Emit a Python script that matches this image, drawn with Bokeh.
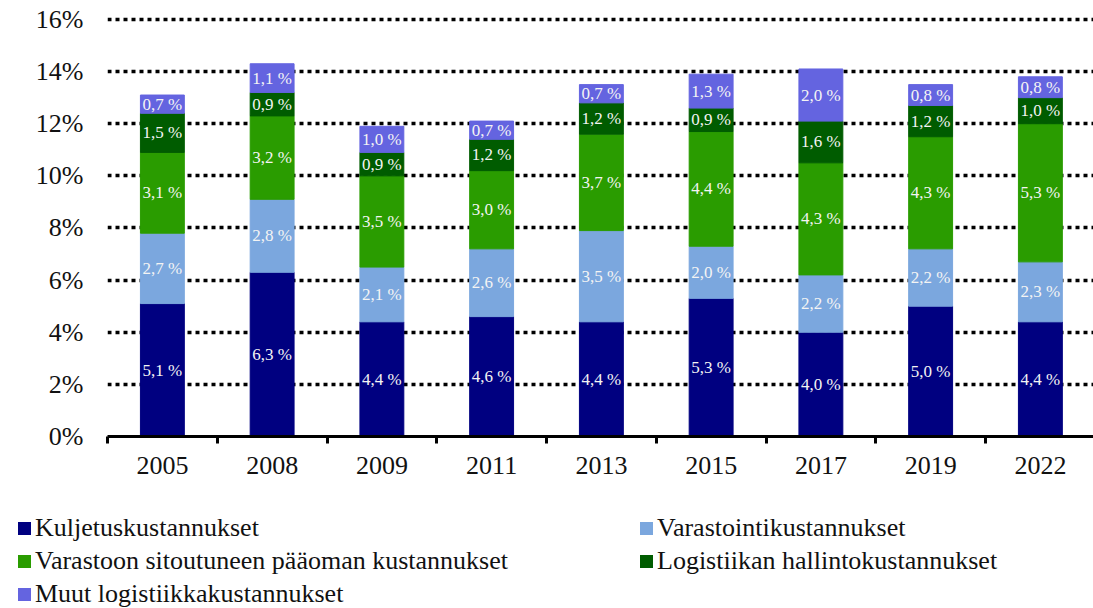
from bokeh.plotting import figure
from bokeh.layouts import column
from bokeh.models import (ColumnDataSource, Range1d, FixedTicker, PrintfTickFormatter, Div)
from bokeh.core.properties import value
from bokeh.embed import file_html
from bokeh.resources import INLINE

years = ["2005", "2008", "2009", "2011", "2013", "2015", "2017", "2019", "2022"]
kuljetus = [5.1, 6.3, 4.4, 4.6, 4.4, 5.3, 4.0, 5.0, 4.4]
varastointi = [2.7, 2.8, 2.1, 2.6, 3.5, 2.0, 2.2, 2.2, 2.3]
paaoma = [3.1, 3.2, 3.5, 3.0, 3.7, 4.4, 4.3, 4.3, 5.3]
hallinto = [1.5, 0.9, 0.9, 1.2, 1.2, 0.9, 1.6, 1.2, 1.0]
muut = [0.7, 1.1, 1.0, 0.7, 0.7, 1.3, 2.0, 0.8, 0.8]

series_names = ["Kuljetuskustannukset", "Varastointikustannukset",
                "Varastoon sitoutuneen pääoman kustannukset",
                "Logistiikan hallintokustannukset", "Muut logistiikkakustannukset"]
series_values = [kuljetus, varastointi, paaoma, hallinto, muut]
colors = ["#000080", "#7BA7DE", "#2A9C00", "#005C00", "#6464E0"]
y_ticks = [0, 2, 4, 6, 8, 10, 12, 14, 16]

FONT = "Liberation Serif"

keys = ["s%d" % i for i in range(len(series_values))]
x = list(range(len(years)))
data = {"x": x, "year": years}
for k, v in zip(keys, series_values):
    data[k] = v
source = ColumnDataSource(data)

MAIN_H = 505
p = figure(width=1093, height=MAIN_H, output_backend="svg", toolbar_location=None,
           x_range=Range1d(-0.5, 8.484), y_range=Range1d(0, 16.19),
           min_border_left=107, min_border_top=14, min_border_right=0,
           min_border_bottom=MAIN_H - 436)
p.outline_line_color = None
p.background_fill_color = "white"

renderers = p.vbar_stack(keys, x="x", width=0.4, color=colors, source=source)

# segment labels
lx, ly, lt = [], [], []
bottoms = [0.0] * len(years)
for vals in series_values:
    for i, v in enumerate(vals):
        lx.append(x[i])
        ly.append(bottoms[i] + v / 2)
        lt.append(("%.1f %%" % v).replace(".", ","))
        bottoms[i] += v
p.text(x=lx, y=ly, text=lt, text_align="center", text_baseline="middle",
       text_color="#F4F4F4", text_font=value(FONT), text_font_size="17px")

# grid
p.xgrid.visible = False
p.ygrid.ticker = FixedTicker(ticks=y_ticks[1:])
p.ygrid.grid_line_color = "black"
p.ygrid.grid_line_width = 3.5
p.ygrid.grid_line_dash = "4 4"

# y axis
ya = p.yaxis[0]
ya.ticker = FixedTicker(ticks=y_ticks)
ya.formatter = PrintfTickFormatter(format="%d%%")
ya.axis_line_color = None
ya.major_tick_line_color = None
ya.minor_tick_line_color = None
ya.major_label_text_font = FONT
ya.major_label_text_font_size = "26px"
ya.major_label_text_color = "#111111"
ya.major_label_standoff = 18

# x axis
xa = p.xaxis[0]
xa.ticker = FixedTicker(ticks=x, minor_ticks=[i - 0.5 for i in range(len(years) + 1)])
xa.major_label_overrides = {i: y for i, y in enumerate(years)}
xa.axis_line_width = 3
xa.axis_line_color = "black"
xa.major_tick_out = 0
xa.major_tick_in = 0
xa.minor_tick_in = 0
xa.minor_tick_out = 7
xa.minor_tick_line_width = 3
xa.minor_tick_line_color = "black"
xa.major_label_text_font = FONT
xa.major_label_text_font_size = "26px"
xa.major_label_text_color = "#111111"
xa.major_label_standoff = 13

# legend (two columns, row-major order like the original)
LEG_H = 608 - MAIN_H
col_left = [18, 640]
row_h = 33
top0 = 6


def legend_item(i):
    r, c = divmod(i, 2)
    return ('<div style="position:absolute; left:%dpx; top:%dpx; height:%dpx; '
            'line-height:%dpx; white-space:nowrap;">'
            '<span style="display:inline-block; width:13px; height:13px; '
            'background:%s; vertical-align:middle; margin-right:4px; '
            'position:relative; top:-2px;"></span>%s</div>'
            % (col_left[c], top0 + r * row_h, row_h, row_h, colors[i], series_names[i]))


html = ('<div style="position:relative; width:1093px; height:%dpx; '
        'font-family:\'Liberation Serif\'; font-size:26px; color:#111111;">%s</div>'
        % (LEG_H, "".join(legend_item(i) for i in range(len(series_names)))))
leg = Div(text=html, width=1093, height=LEG_H, margin=0)

open("out.html", "w").write(file_html(column(p, leg, spacing=0), INLINE))
